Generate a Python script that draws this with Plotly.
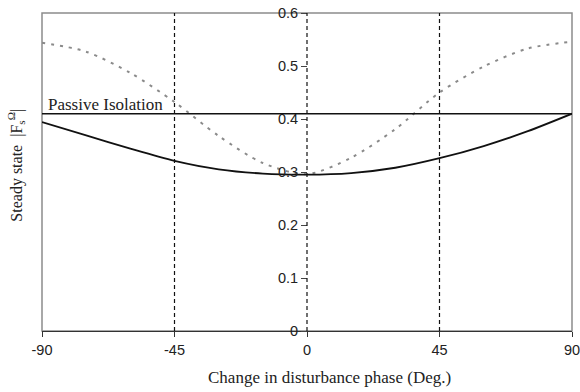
import plotly.graph_objects as go

phase_deg = [-90, -75, -60, -45, -30, -15, 0, 15, 30, 45, 60, 75, 90]
active_solid = [0.394, 0.369, 0.344, 0.321, 0.305, 0.297, 0.295, 0.298, 0.308, 0.326, 0.349, 0.377, 0.410]
alt_dotted = [0.544, 0.527, 0.487, 0.432, 0.368, 0.317, 0.296, 0.327, 0.381, 0.450, 0.499, 0.533, 0.546]
passive_level = 0.41
x_ticks = [-90, -45, 0, 45, 90]
y_ticks = [0, 0.1, 0.2, 0.3, 0.4, 0.5, 0.6]
vlines = [-45, 0, 45]

SERIF = "Liberation Serif, Times New Roman, serif"
SANS = "Liberation Sans, Arial, sans-serif"

fig = go.Figure()
fig.add_trace(go.Scatter(x=phase_deg, y=alt_dotted, mode="lines",
                         line=dict(color="#8a8a8a", width=2, dash="3px,6px", shape="spline", smoothing=0.8),
                         showlegend=False, hoverinfo="skip"))
fig.add_trace(go.Scatter(x=phase_deg, y=active_solid, mode="lines",
                         line=dict(color="#111111", width=1.8, shape="spline", smoothing=0.8),
                         showlegend=False, hoverinfo="skip"))

shapes = []
# grey frame (left, top, right)
shapes.append(dict(type="rect", xref="paper", yref="paper", x0=0, x1=1, y0=0, y1=1,
                   line=dict(color="#8c8c8c", width=1.5), layer="below"))
for v in vlines:
    shapes.append(dict(type="line", xref="x", yref="paper", x0=v, x1=v, y0=0, y1=1,
                       line=dict(color="#111111", width=1.2, dash="4px,3px")))
shapes.append(dict(type="line", xref="x", yref="y", x0=-91.6, x1=90, y0=passive_level, y1=passive_level,
                   line=dict(color="#111111", width=1.5)))

fig.update_layout(
    width=580, height=392,
    margin=dict(l=41.5, r=8, t=13, b=60.5),
    paper_bgcolor="white", plot_bgcolor="white",
    shapes=shapes,
    xaxis=dict(range=[-90, 90], tickvals=x_ticks, ticktext=[str(t) for t in x_ticks],
               showgrid=False, zeroline=False, showline=True, linecolor="#333333", linewidth=1.2,
               ticks="outside", ticklen=5, tickcolor="#333333", tickwidth=1,
               ticklabeloverflow="allow", automargin=False,
               tickfont=dict(family=SANS, size=14.5, color="#222222")),
    yaxis=dict(range=[0, 0.6], tickvals=y_ticks, ticktext=[("%g" % t) for t in y_ticks],
               showgrid=False, zeroline=False, showline=False,
               anchor="free", position=0.5, side="left", automargin=False,
               ticks="outside", ticklen=6, tickcolor="#444444", tickwidth=1,
               tickfont=dict(family=SANS, size=14.5, color="#222222")),
    annotations=[
        dict(text="Passive Isolation", x=-88.5, y=passive_level, xref="x", yref="y",
             xanchor="left", yanchor="bottom", showarrow=False, yshift=-2,
             font=dict(family=SERIF, size=17, color="#222222")),
        dict(text="Steady state  |F<sub>s</sub><sup>Ω</sup>|", x=-26 / 530.5, y=0.52, xref="paper", yref="paper",
             xanchor="center", yanchor="middle", showarrow=False, textangle=-90,
             font=dict(family=SERIF, size=16, color="#222222")),
        dict(text="Change in disturbance phase (Deg.)", x=(329 - 41.5) / 530.5, y=-47 / 318.5,
             xref="paper", yref="paper", xanchor="center", yanchor="middle", showarrow=False,
             font=dict(family=SERIF, size=17, color="#222222")),
    ],
)

fig.write_html("out.html")
